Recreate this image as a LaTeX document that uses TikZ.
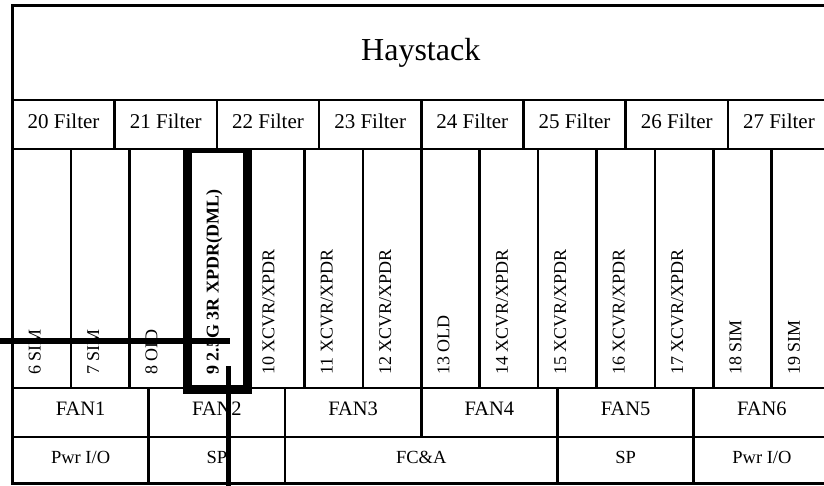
\documentclass[tikz,border=0pt]{standalone}
\usepackage{fontspec}
\setmainfont{Liberation Serif}
\newcommand\xcvr{XCVR/XPDR}
\begin{document}
\begin{tikzpicture}[x=1pt,y=-1pt,
  cell/.style={draw=black, line width=2.6pt, inner sep=0pt, outer sep=0pt, anchor=north west},
  titletext/.style={font=\fontsize{32}{38}\selectfont, inner sep=0pt},
  ftext/.style={font=\fontsize{21}{25}\selectfont, inner sep=0pt, anchor=base},
  fantext/.style={font=\fontsize{20.5}{25}\selectfont, inner sep=0pt, anchor=base},
  btext/.style={font=\fontsize{18.5}{22}\selectfont, inner sep=0pt, anchor=base},
  stext/.style={font=\fontsize{18}{22}\selectfont, inner sep=0pt, rotate=90, anchor=base west},
  heavy/.style={line width=9pt, line join=miter},
  wire/.style={line width=5.5pt}]
\useasboundingbox (0,0) rectangle (824,485);
\begin{scope}
\clip (0,0) rectangle (824,485);
% title row
\node[cell, minimum width=817.5pt, minimum height=94.5pt] (hay) at (12.5,5.5) {};
\node[titletext, anchor=base] (hayt) at (420.75,60) {Haystack};
% filter row
\foreach \i/\t in {0/20,1/21,2/22,3/23,4/24,5/25,6/26,7/27} {
  \node[cell, minimum width=102.1875pt, minimum height=49pt] (f\t) at ({12.5+102.1875*\i},100) {};
  \node[ftext] (ft\t) at ({12.5+102.1875*(\i+0.5)},128) {\t\ Filter};
}
% slot row
\foreach \n in {6,...,19} {
  \node[cell, minimum width=58.393pt, minimum height=239pt] (s\n) at ({12.5+58.393*(\n-6)},149) {};
}
\foreach \n/\t in {6/SIM,7/SIM,8/OID,10/\xcvr,11/\xcvr,12/\xcvr,13/OLD,14/\xcvr,15/\xcvr,16/\xcvr,17/\xcvr,18/SIM,19/SIM} {
  \node[stext] (st\n) at ({12.5+58.393*(\n-6+0.5)-1},375) {\n\ \t};
}
\node[stext, font=\fontsize{18}{22}\selectfont\bfseries] (st9) at (218.5,375) {9 2.5G 3R XPDR(DML)};
% fan row
\foreach \i in {1,...,6} {
  \node[cell, minimum width=136.25pt, minimum height=49pt] (fan\i) at ({12.5+136.25*(\i-1)},388) {};
  \node[fantext] (fant\i) at ({12.5+136.25*(\i-0.5)},415) {FAN\i};
}
% bottom row
\node[cell, minimum width=136.25pt, minimum height=46.5pt] (b1) at (12.5,437) {};
\node[cell, minimum width=136.25pt, minimum height=46.5pt] (b2) at (148.75,437) {};
\node[cell, minimum width=272.5pt, minimum height=46.5pt] (b3) at (285,437) {};
\node[cell, minimum width=136.25pt, minimum height=46.5pt] (b4) at (557.5,437) {};
\node[cell, minimum width=136.25pt, minimum height=46.5pt] (b5) at (693.75,437) {};
\node[btext] (bt1) at (80.6,463) {Pwr I/O};
\node[btext] (bt2) at (216.9,463) {SP};
\node[btext] (bt3) at (421.25,463) {FC\&A};
\node[btext] (bt4) at (625.6,463) {SP};
\node[btext] (bt5) at (761.9,463) {Pwr I/O};
% highlight box around slot 9
\draw[heavy] (187.5,149) -- (187.5,389.5) -- (247.5,389.5) -- (247.5,149);
\draw[line width=4pt] (183,151) -- (252,151);
% wires
\coordinate (hA) at (0,340.5);
\coordinate (hB) at (230,340.5);
\coordinate (vA) at (228.5,366);
\coordinate (vB) at (228.5,487);
\draw[line width=6pt] (hA) -- (hB);
\draw[wire] (vA) -- (vB);
\end{scope}
\end{tikzpicture}
\end{document}
